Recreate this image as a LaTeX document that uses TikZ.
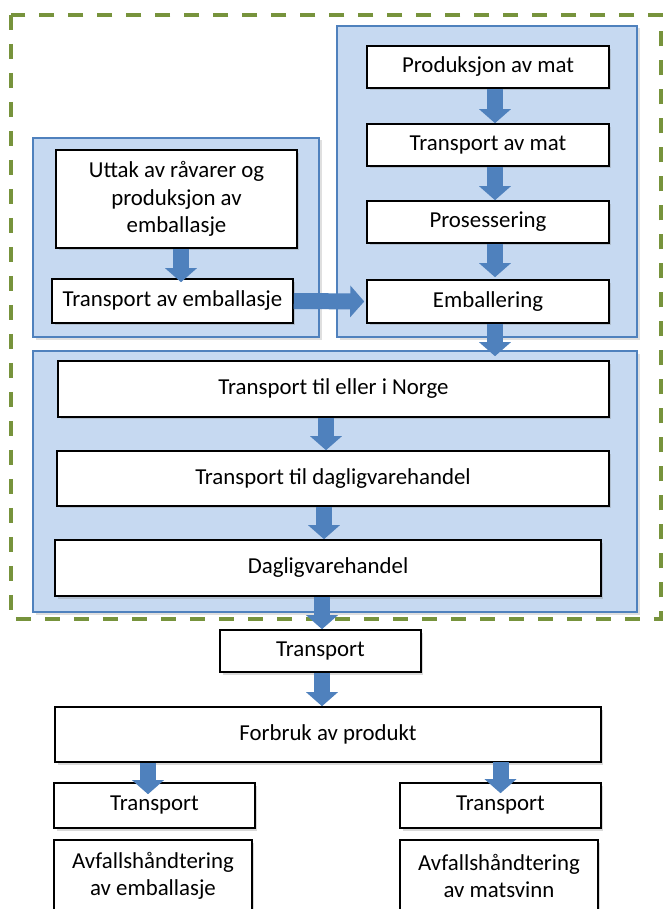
\documentclass[tikz,border=0pt]{standalone}
\usepackage{fontspec}
\setmainfont{Carlito}
\usetikzlibrary{arrows.meta,calc,shadows}
\definecolor{panelfill}{RGB}{198,217,241}
\definecolor{flowblue}{RGB}{79,129,189}
\definecolor{dashgreen}{RGB}{119,147,60}

\begin{document}
\begin{tikzpicture}[x=0.02cm,y=-0.02cm]
			\tikzstyle{stage}=[draw=black,fill=white,line width=0.9pt,inner sep=0pt,align=center,
				font=\fontsize{13}{15.5}\selectfont,
				drop shadow={shadow xshift=0.05cm,shadow yshift=-0.05cm,opacity=0.3}]
			\tikzstyle{panel}=[draw=flowblue,fill=panelfill,line width=0.8pt,
				drop shadow={shadow xshift=0.05cm,shadow yshift=-0.05cm,opacity=0.25}]
			\tikzstyle{flow}=[draw=flowblue,line width=0.32cm,-{Triangle[width=0.62cm,length=0.28cm]}]
			\useasboundingbox (0,0) rectangle (664,909);
			\clip (0,0) rectangle (664,909);

			% system boundary
			\draw[dashgreen,line width=2.3pt,dash pattern=on 0.3cm off 0.28cm] (11,15) rectangle (661,619);

			% panels
			\draw[panel] (337,26) rectangle (637,337);
			\draw[panel] (33,138) rectangle (319,337);
			\draw[panel] (33,351) rectangle (637,612);

			\begin{scope}
			\node[stage,minimum width=4.84cm,minimum height=0.84cm] (mat)      at (488,67)    {Produksjon av mat};
			\node[stage,minimum width=4.84cm,minimum height=0.84cm] (transmat) at (488,145)   {Transport av mat};
			\node[stage,minimum width=4.84cm,minimum height=0.84cm] (pros)     at (488,222)   {Prosessering};
			\node[stage,minimum width=4.84cm,minimum height=0.86cm] (emb)      at (488,301.5) {Emballering};

			\node[stage,minimum width=4.82cm,minimum height=1.96cm] (uttak)    at (176.5,199) {Uttak av råvarer og\\produksjon av\\emballasje};
			\node[stage,minimum width=4.82cm,minimum height=0.88cm] (transemb) at (172.5,301) {Transport av emballasje};

			\node[stage,minimum width=11.02cm,minimum height=1.12cm] (norge)   at (333.5,389) {Transport til eller i Norge};
			\node[stage,minimum width=11.04cm,minimum height=1.10cm] (dagl)    at (333,478.5) {Transport til dagligvarehandel};
			\node[stage,minimum width=10.92cm,minimum height=1.12cm] (handel)  at (328,568)   {Dagligvarehandel};

			\node[stage,minimum width=4.02cm,minimum height=0.84cm] (transp)   at (320.5,651) {Transport};
			\node[stage,minimum width=10.92cm,minimum height=1.10cm] (forbruk) at (328,734.5) {Forbruk av produkt};

			\node[stage,minimum width=4.02cm,minimum height=0.90cm] (transL)   at (154.5,805.5) {Transport};
			\node[stage,minimum width=4.02cm,minimum height=0.90cm] (transR)   at (500.5,805.5) {Transport};
			\node[stage,minimum width=3.96cm,minimum height=1.44cm] (avfL)     at (153,876)   {Avfallshåndtering\\av emballasje};
			\node[stage,minimum width=3.96cm,minimum height=1.44cm] (avfR)     at (499,876)   {Avfallshåndtering\\av matsvinn};
			\end{scope}

			% flows
			\draw[flow] ($(mat.south)+(7,0)$) -- ($(transmat.north)+(7,0)$);
			\draw[flow] ($(transmat.south)+(7,0)$) -- ($(pros.north)+(7,0)$);
			\draw[flow] ($(pros.south)+(7,0)$) -- ($(emb.north)+(7,-2)$);
			\draw[flow] ($(emb.south)+(7,0)$) -- ($(emb.south |- norge.north)+(7,-4)$);
			\draw[flow] ($(uttak.south)+(4.5,0)$) -- ($(uttak.south |- transemb.north)+(4.5,4)$);
			\draw[flow] (transemb.east) -- ($(emb.west)+(-2,0)$);
			\draw[flow] ($(norge.south)+(-7.5,0)$) -- ($(norge.south |- dagl.north)+(-7.5,0)$);
			\draw[flow] ($(dagl.south)+(-9,0)$) -- ($(dagl.south |- handel.north)+(-9,0)$);
			\draw[flow] ($(handel.south)+(-6,0)$) -- ($(handel.south |- transp.north)+(-6,0)$);
			\draw[flow] ($(transp.south)+(1.5,0)$) -- ($(transp.south |- forbruk.north)+(1.5,0)$);
			\draw[flow] ($(forbruk.south -| transL.north)+(-6.5,0)$) -- ($(transL.north)+(-6.5,12)$);
			\draw[flow] ($(forbruk.south -| transR.north)+(0,-1)$) -- ($(transR.north)+(0,11)$);
\end{tikzpicture}
\end{document}
